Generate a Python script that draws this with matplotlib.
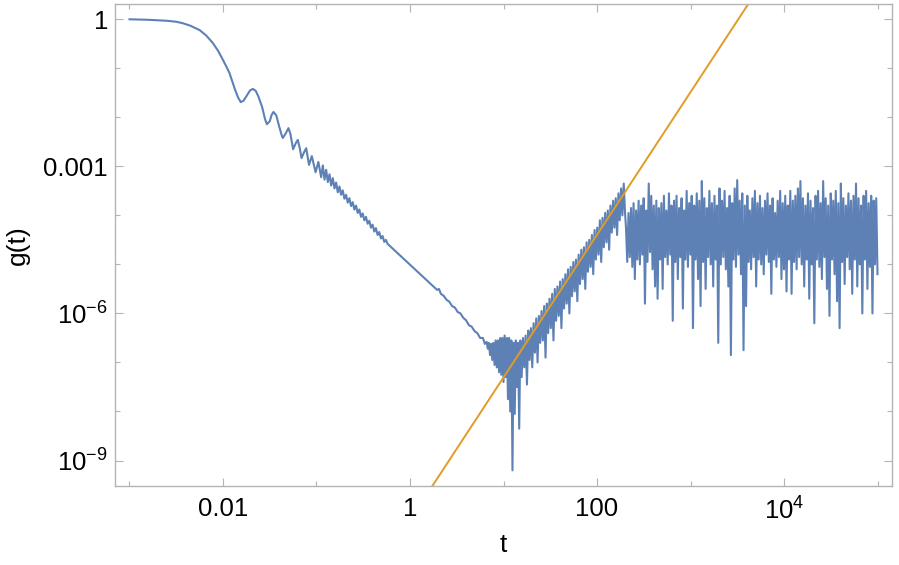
import numpy as np
import matplotlib.pyplot as plt

plt.rcParams['font.family'] = ['Liberation Sans', 'DejaVu Sans']
plt.rcParams['mathtext.fontset'] = 'custom'
plt.rcParams['mathtext.rm'] = 'Liberation Sans'
plt.rcParams['mathtext.it'] = 'Liberation Sans:italic'

# ---- data (log10 units) ----
# smooth decay with the first oscillations
head_logt = [-3.00, -2.80, -2.60, -2.50, -2.43, -2.35, -2.25, -2.18, -2.11, -2.05,
             -2.00, -1.96, -1.93, -1.90, -1.87, -1.84, -1.81, -1.78, -1.74, -1.71,
             -1.68, -1.65, -1.62, -1.58, -1.55, -1.53, -1.50, -1.48, -1.46, -1.43,
             -1.40, -1.37, -1.36, -1.33, -1.30, -1.28, -1.25, -1.22, -1.20, -1.18,
             -1.16, -1.13, -1.11, -1.09, -1.08, -1.05, -1.01, -0.98, -0.95]
head_logg = [0.00, -0.01, -0.03, -0.05, -0.08, -0.13, -0.22, -0.33, -0.48, -0.65,
             -0.83, -0.98, -1.10, -1.27, -1.44, -1.59, -1.69, -1.66, -1.54, -1.45,
             -1.42, -1.46, -1.58, -1.80, -2.04, -2.14, -2.08, -1.95, -1.89, -1.96,
             -2.18, -2.38, -2.42, -2.33, -2.22, -2.33, -2.65, -2.52, -2.46, -2.62,
             -2.83, -2.70, -2.63, -2.85, -2.97, -2.79, -3.12, -2.91, -3.22]

# fine ripples on the t^-2 part, log t from -0.932 to -0.24
ripple_span = (-0.932, -0.24)
ripple_logg = [-2.98, -3.27, -3.07, -3.32, -3.16, -3.39, -3.24, -3.45, -3.33, -3.53,
               -3.41, -3.58, -3.49, -3.66, -3.58, -3.74, -3.65, -3.81, -3.73, -3.88,
               -3.80, -3.95, -3.88, -4.03, -3.96, -4.10, -4.03, -4.17, -4.11, -4.25,
               -4.19, -4.33, -4.26, -4.40, -4.34, -4.47, -4.42, -4.54, -4.50, -4.58]

# clean stretch down to the minimum
tail_logt = [0.29, 0.31, 0.33, 0.36, 0.39, 0.42, 0.45, 0.48, 0.51, 0.54,
             0.57, 0.60, 0.63, 0.66, 0.69, 0.72, 0.75, 0.78, 0.80]
tail_logg = [-5.52, -5.50, -5.60, -5.64, -5.72, -5.76, -5.85, -5.88, -5.97, -6.00,
             -6.09, -6.14, -6.24, -6.27, -6.36, -6.40, -6.50, -6.50, -6.62]

# noisy floor with deep dips, log t from 0.82 to 1.168
floor_span = (0.82, 1.168)
floor_logg = [-6.58, -6.72, -6.60, -6.85, -6.62, -6.95, -6.60, -7.05, -6.55, -7.10,
              -6.55, -7.20, -6.50, -7.25, -6.50, -7.40, -6.45, -7.30, -6.50, -7.75,
              -6.50, -8.00, -6.55, -9.20, -6.60, -8.05, -6.55, -7.50, -6.60, -8.35]

# rising part, log t from 1.18 to 2.30
rise_span = (1.18, 2.30)
rise_logg = [-6.55, -7.30, -6.50, -7.10, -6.45, -7.45, -6.35, -6.95, -6.30, -7.10,
             -6.20, -6.80, -6.10, -7.00, -6.05, -6.60, -5.95, -6.55, -5.85, -6.90,
             -5.80, -6.40, -5.70, -6.30, -5.60, -6.55, -5.50, -6.15, -5.45, -6.05,
             -5.35, -6.30, -5.30, -5.90, -5.20, -5.80, -5.10, -6.00, -5.05, -5.65,
             -4.95, -5.55, -4.90, -5.75, -4.80, -5.40, -4.70, -5.30, -4.65, -5.50,
             -4.55, -5.15, -4.50, -5.05, -4.40, -5.20, -4.30, -4.90, -4.25, -4.80,
             -4.10, -4.95, -4.05, -4.65, -3.95, -4.55, -3.90, -4.70, -3.80, -4.35,
             -3.70, -4.25, -3.65, -4.40, -3.55, -4.10, -3.45, -4.00, -3.35, -3.95]

# saturated plateau, log t from 2.31 to 5.0
plateau_span = (2.31, 5.0)
plateau_logg = [-4.25, -4.95, -3.95, -4.85, -3.85, -5.05, -3.75, -5.30, -3.90, -4.90,
                -3.70, -5.00, -3.80, -4.80, -3.65, -5.80, -3.90, -4.95, -3.35, -4.75,
                -3.60, -5.10, -3.80, -5.45, -3.70, -5.70, -3.85, -4.90, -3.75, -5.50,
                -3.60, -4.85, -3.90, -5.00, -3.55, -4.80, -3.80, -6.15, -3.70, -4.95,
                -3.60, -5.30, -3.85, -4.85, -3.65, -5.90, -3.90, -4.90, -3.50, -5.05,
                -3.75, -4.80, -3.60, -6.30, -3.80, -4.90, -3.55, -5.30, -3.70, -5.85,
                -3.30, -4.95, -3.65, -5.50, -3.85, -4.85, -3.50, -5.00, -3.75, -5.45,
                -3.60, -4.90, -3.80, -6.60, -3.45, -5.00, -3.70, -4.85, -3.50, -5.10,
                -3.85, -5.45, -3.60, -6.85, -3.75, -4.90, -3.45, -5.05, -3.28, -4.80,
                -3.70, -5.20, -3.55, -6.75, -3.80, -5.85, -3.60, -4.95, -3.90, -5.10,
                -3.65, -4.85, -3.50, -5.45, -3.75, -4.90, -3.60, -5.00, -3.85, -5.20,
                -3.70, -4.80, -3.55, -4.95, -3.80, -5.60, -3.65, -4.90, -3.95, -5.05,
                -3.70, -4.85, -3.50, -5.30, -3.75, -5.10, -3.60, -5.55, -3.80, -4.90,
                -3.50, -5.60, -3.70, -4.95, -3.60, -5.10, -3.45, -4.85, -3.30, -5.00,
                -3.65, -5.45, -3.80, -4.90, -3.55, -5.70, -3.70, -5.00, -3.85, -6.20,
                -3.60, -4.90, -3.50, -5.05, -3.75, -5.30, -3.30, -4.85, -3.65, -5.50,
                -3.80, -6.05, -3.55, -4.90, -3.70, -5.20, -3.50, -5.75, -3.75, -6.30,
                -3.35, -4.95, -3.65, -5.40, -3.80, -4.85, -3.55, -5.10, -3.70, -5.60,
                -3.60, -4.90, -3.35, -5.45, -3.65, -5.00, -3.80, -6.00, -3.60, -4.90,
                -3.50, -5.50, -3.75, -5.05, -3.60, -6.00, -3.70, -5.00, -3.65, -5.20]

# orange power-law guide line (two points, clipped by the frame)
fit_t = [0.1, 1.0e4]
fit_g = [7.5e-14, 26.5]

x_major = [1e-2, 1, 1e2, 1e4]
x_major_labels = ['0.01', '1', '100', '$10^{4}$']
x_minor = [1e-3, 1e-1, 1e1, 1e3, 1e5]
y_major = [1e-9, 1e-6, 1e-3, 1]
y_major_labels = ['$10^{-9}$', '$10^{-6}$', '0.001', '1']
y_minor = [1e-8, 1e-7, 1e-5, 1e-4, 1e-2, 1e-1]


def section(span, vals):
    lt = np.linspace(span[0], span[1], len(vals))
    return list(lt), list(vals)


logt = list(head_logt)
logg = list(head_logg)
a, b = section(ripple_span, ripple_logg)
logt += a
logg += b
logt += tail_logt
logg += tail_logg
for span, vals in [(floor_span, floor_logg), (rise_span, rise_logg),
                   (plateau_span, plateau_logg)]:
    a, b = section(span, vals)
    logt += a
    logg += b

t = 10 ** np.array(logt)
g = 10 ** np.array(logg)

fig = plt.figure(figsize=(8.99, 5.65), dpi=100)
ax = fig.add_axes([115 / 899, 1 - 486 / 565, 777 / 899, 481.7 / 565])

ax.plot(t, g, color='#5E81B5', lw=1.5, solid_joinstyle='round')
ax.plot(fit_t, fit_g, color='#E19C24', lw=1.4)

ax.set_xscale('log')
ax.set_yscale('log')
ax.set_xlim(10 ** -3.155, 10 ** 5.155)
ax.set_ylim(10 ** -9.52, 10 ** 0.306)

ax.set_xticks(x_major)
ax.set_xticklabels(x_major_labels)
ax.set_xticks(x_minor, minor=True)
ax.set_xticklabels([''] * len(x_minor), minor=True)
ax.set_yticks(y_major)
ax.set_yticklabels(y_major_labels)
ax.set_yticks(y_minor, minor=True)
ax.set_yticklabels([''] * len(y_minor), minor=True)

for s in ax.spines.values():
    s.set_color('#B4B4B4')
    s.set_linewidth(1.0)
ax.tick_params(which='both', direction='in', top=True, right=True,
               color='#B4B4B4', width=0.8, labelsize=18.5, labelcolor='black')
ax.tick_params(which='major', length=5.5)
ax.tick_params(which='minor', length=3.5)
ax.tick_params(axis='x', which='major', pad=8)
ax.tick_params(axis='y', which='major', pad=5)

ax.set_xlabel('t', fontsize=19, labelpad=6)
ax.set_ylabel('g(t)', fontsize=19, labelpad=10)

fig.savefig('out.png', dpi=100)
